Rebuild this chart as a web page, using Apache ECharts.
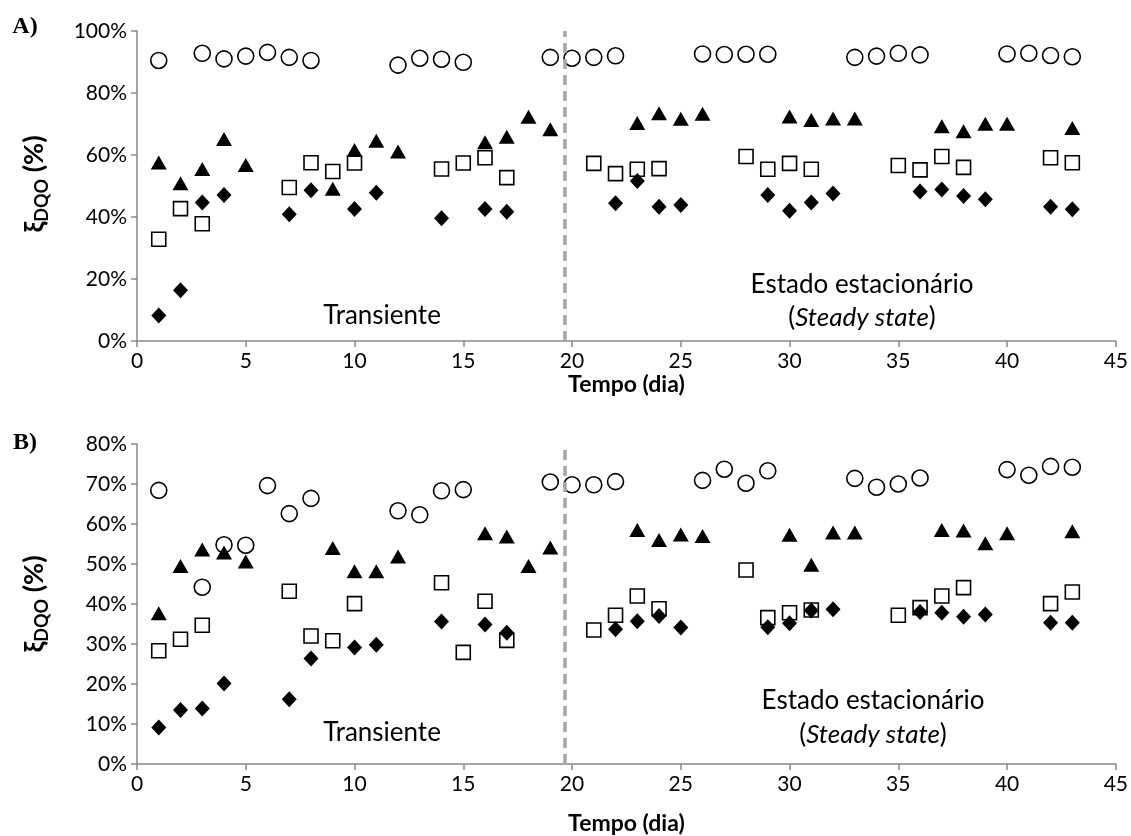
<!DOCTYPE html>
<html><head><meta charset="utf-8">
<script src="https://cdn.jsdelivr.net/npm/echarts/dist/echarts.min.js"></script>
<style>html,body{margin:0;padding:0;background:#fff}#c{width:1131px;height:836px}</style>
</head><body><div id="c"></div>
<script>
// ---- Data (day, % removal) ----
const xTicks = [0,5,10,15,20,25,30,35,40,45];
const yTicksA = [0,20,40,60,80,100];
const yTicksB = [0,10,20,30,40,50,60,70,80];
const transitionDay = 19.65;

// Panel A
const circA = [[1,90.5],[3,92.8],[4,91.0],[5,91.9],[6,93.1],[7,91.5],[8,90.5],[12,89.0],[13,91.2],[14,90.9],[15,89.9],[19,91.5],[20,91.2],[21,91.5],[22,92.0],[26,92.6],[27,92.4],[28,92.5],[29,92.5],[33,91.5],[34,91.9],[35,92.8],[36,92.3],[40,92.6],[41,92.8],[42,92.1],[43,91.7]];
const squareA = [[1,32.8],[2,42.7],[3,37.8],[7,49.5],[8,57.5],[9,54.7],[10,57.4],[14,55.5],[15,57.4],[16,59.1],[17,52.7],[21,57.3],[22,54.0],[23,55.4],[24,55.6],[28,59.5],[29,55.4],[30,57.3],[31,55.4],[35,56.6],[36,55.2],[37,59.5],[38,56.0],[42,59.1],[43,57.5]];
const triA = [[1,57.6],[2,50.9],[3,55.5],[4,65.2],[5,56.8],[9,49.1],[10,61.6],[11,64.6],[12,61.1],[16,64.1],[17,65.9],[18,72.3],[19,68.3],[23,70.3],[24,73.5],[25,71.7],[26,73.3],[30,72.4],[31,71.3],[32,71.8],[33,71.8],[37,69.3],[38,67.7],[39,70.1],[40,70.1],[43,68.7]];
const diamA = [[1,8.2],[2,16.4],[3,44.7],[4,47.1],[7,40.9],[8,48.6],[10,42.6],[11,47.8],[14,39.6],[16,42.6],[17,41.7],[22,44.4],[23,51.6],[24,43.3],[25,43.9],[29,47.1],[30,42.0],[31,44.7],[32,47.6],[36,48.2],[37,48.9],[38,46.8],[39,45.7],[42,43.3],[43,42.5]];

// Panel B
const circB = [[1,68.4],[3,44.2],[4,54.8],[5,54.7],[6,69.6],[7,62.6],[8,66.4],[12,63.3],[13,62.3],[14,68.3],[15,68.6],[19,70.5],[20,69.8],[21,69.8],[22,70.6],[26,70.9],[27,73.7],[28,70.2],[29,73.3],[33,71.4],[34,69.2],[35,70.0],[36,71.5],[40,73.6],[41,72.2],[42,74.4],[43,74.2]];
const squareB = [[1,28.3],[2,31.2],[3,34.7],[7,43.2],[8,32.0],[9,30.8],[10,40.1],[14,45.3],[15,27.9],[16,40.7],[17,30.9],[21,33.5],[22,37.2],[23,42.0],[24,38.8],[28,48.5],[29,36.6],[30,37.8],[31,38.5],[35,37.2],[36,39.1],[37,42.0],[38,44.1],[42,40.1],[43,43.0]];
const triB = [[1,37.7],[2,49.5],[3,53.6],[4,52.9],[5,50.6],[9,54.0],[10,48.2],[11,48.2],[12,51.9],[16,57.7],[17,56.9],[18,49.5],[19,54.1],[23,58.5],[24,56.0],[25,57.4],[26,57.0],[30,57.3],[31,49.8],[32,57.9],[33,57.9],[37,58.5],[38,58.4],[39,55.2],[40,57.7],[43,58.2]];
const diamB = [[1,9.1],[2,13.5],[3,13.9],[4,20.1],[7,16.2],[8,26.4],[10,29.1],[11,29.8],[14,35.6],[16,34.9],[17,32.8],[22,33.7],[23,35.7],[24,37.0],[25,34.1],[29,34.2],[30,35.2],[31,38.4],[32,38.7],[36,38.0],[37,37.8],[38,36.8],[39,37.4],[42,35.3],[43,35.3]];

// ---- Styles ----
const FONT = 'Lato';
const AX = '#898989';
const chart = echarts.init(document.getElementById('c'), null, {renderer:'canvas'});

function xAxis(gi, gap){
  return {type:'value', gridIndex:gi, min:xTicks[0], max:xTicks[xTicks.length-1], interval:5,
    axisLine:{show:true, onZero:false, lineStyle:{color:AX, width:1.5}},
    axisTick:{show:true, length:6, lineStyle:{color:AX, width:1.5}},
    splitLine:{show:false},
    axisLabel:{color:'#000', fontFamily:FONT, fontSize:21, margin:10},
    name:'Tempo (dia)', nameLocation:'middle', nameGap:gap,
    nameTextStyle:{color:'#000', fontFamily:FONT, fontSize:23, fontWeight:'bold'}};
}
function yAxis(gi, ticks){
  return {type:'value', gridIndex:gi, min:0, max:ticks[ticks.length-1], interval:ticks[1]-ticks[0],
    axisLine:{show:true, lineStyle:{color:AX, width:1.5}},
    axisTick:{show:true, length:6, lineStyle:{color:AX, width:1.5}},
    splitLine:{show:false},
    axisLabel:{color:'#000', fontFamily:FONT, fontSize:21, margin:10, formatter:'{value}%'}};
}
function mk(name, data, gi, kind){
  const base = {type:'scatter', name, data, xAxisIndex:gi, yAxisIndex:gi, silent:true, animation:false};
  if(kind==='circle') Object.assign(base,{symbol:'circle', symbolSize:16, itemStyle:{color:'#fff', borderColor:'#000', borderWidth:1.6, opacity:1}, z:2});
  if(kind==='square') Object.assign(base,{symbol:'rect', symbolSize:14, itemStyle:{color:'#fff', borderColor:'#000', borderWidth:1.6, opacity:1}, z:3});
  if(kind==='tri') Object.assign(base,{symbol:'triangle', symbolSize:[16,14], itemStyle:{color:'#000', opacity:1}, z:4});
  if(kind==='diam') Object.assign(base,{symbol:'diamond', symbolSize:[15,16], itemStyle:{color:'#000', opacity:1}, z:5});
  return base;
}
function divider(gi){
  return {type:'scatter', data:[], xAxisIndex:gi, yAxisIndex:gi, silent:true,
    markLine:{silent:true, symbol:'none', animation:false, label:{show:false},
      lineStyle:{color:'#A6A6A6', width:3.5, type:[10,6], opacity:1}, data:[{xAxis:transitionDay}]}};
}
function ylabel(cx, cy){
  return {type:'text', x:cx, y:cy, rotation:Math.PI/2,
    style:{text:'{a|ξ}{s|DQO}{a| (%)}', align:'center', verticalAlign:'middle',
      rich:{a:{fontFamily:FONT, fontSize:27, fontWeight:'bold', fill:'#000', lineHeight:34},
            s:{fontFamily:FONT, fontSize:18, fontWeight:'bold', fill:'#000', lineHeight:34, verticalAlign:'bottom', padding:[10,0,0,0]}}}};
}
function txt(t, cx, cy, extra){
  return Object.assign({type:'text', x:cx, y:cy, style:{text:t, align:'center', verticalAlign:'middle', fontFamily:FONT, fontSize:26, fill:'#000'}}, extra||{});
}
function steady(cx, cy){
  return {type:'text', x:cx, y:cy, style:{text:'{n|(}{i|Steady state}{n|)}', align:'center', verticalAlign:'middle',
    rich:{n:{fontFamily:FONT, fontSize:26, fill:'#000'}, i:{fontFamily:FONT, fontSize:26, fontStyle:'italic', fill:'#000'}}}};
}

chart.setOption({
  animation:false,
  grid:[{left:137, right:15, top:31, height:310}, {left:137, right:15, top:444, height:321}],
  xAxis:[xAxis(0, 32), xAxis(1, 48)],
  yAxis:[yAxis(0, yTicksA), yAxis(1, yTicksB)],
  series:[
    divider(0),
    mk('A-circle', circA, 0, 'circle'), mk('A-square', squareA, 0, 'square'), mk('A-tri', triA, 0, 'tri'), mk('A-diam', diamA, 0, 'diam'),
    divider(1),
    mk('B-circle', circB, 1, 'circle'), mk('B-square', squareB, 1, 'square'), mk('B-tri', triB, 1, 'tri'), mk('B-diam', diamB, 1, 'diam')
  ],
  graphic:[
    {type:'text', x:25, y:27, style:{text:'A)', align:'center', verticalAlign:'middle', fontFamily:'Liberation Serif', fontWeight:'bold', fontSize:24, fill:'#000'}},
    {type:'text', x:25, y:443, style:{text:'B)', align:'center', verticalAlign:'middle', fontFamily:'Liberation Serif', fontWeight:'bold', fontSize:24, fill:'#000'}},
    ylabel(34, 184), ylabel(34, 604),
    txt('Transiente', 382, 316), txt('Transiente', 382, 733),
    txt('Estado estacionário', 862, 285), steady(862, 318),
    txt('Estado estacionário', 873, 701), steady(873, 735)
  ]
});
</script></body></html>
